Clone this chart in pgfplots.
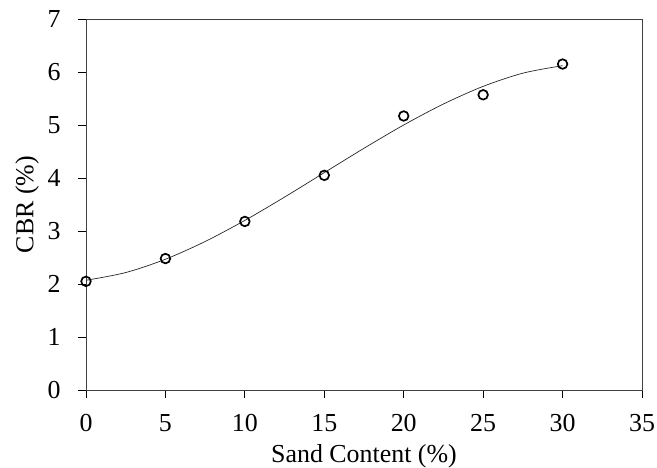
\documentclass[border=0pt]{standalone}
\usepackage{fontspec}
\setmainfont{Liberation Serif}
\usepackage{pgfplots}
\pgfplotsset{compat=1.18}
\begin{document}
\begin{tikzpicture}[x=1bp,y=1bp]
\begin{axis}[
  scale only axis,
  width=556bp, height=371bp,
  xmin=0, xmax=35, ymin=0, ymax=7,
  xtick={0,5,...,35}, ytick={0,1,...,7},
  tick pos=left, tick align=outside,
  major tick length=8bp,
  tick style={black, line width=0.8pt},
  axis line style={black!75, line width=0.8pt},
  /pgf/number format/assume math mode=true,
  ticklabel style={font=\fontsize{26}{29}\selectfont},
  label style={font=\fontsize{26}{29}\selectfont},
  xticklabel style={yshift=-13bp},
  yticklabel style={xshift=-14bp},
  xlabel={Sand Content (\%)},
  ylabel={CBR (\%)},
  xlabel style={at={(axis description cs:0.5,-0.178)}, anchor=center},
  ylabel style={at={(axis description cs:-0.106,0.5)}, anchor=center},
  clip=false,
]
\addplot[black!85, line width=0.7pt, smooth] coordinates {
  (0,2.070) (2.5,2.216) (5,2.467) (7.5,2.802) (10,3.200) (12.5,3.640)
  (15,4.101) (17.5,4.561) (20,5.000) (22.5,5.396) (25,5.729) (27.5,5.978) (30,6.120)
};
\addplot[only marks, mark=o, mark size=4.8bp, mark options={black, line width=1.7pt}] coordinates {
  (0,2.05) (5,2.48) (10,3.18) (15,4.05) (20,5.17) (25,5.57) (30,6.15)
};
\end{axis}
\pgfresetboundingbox
\useasboundingbox ([xshift=-86bp,yshift=-78bp]current axis.south west) rectangle ([xshift=15bp,yshift=19bp]current axis.north east);
\end{tikzpicture}
\end{document}
